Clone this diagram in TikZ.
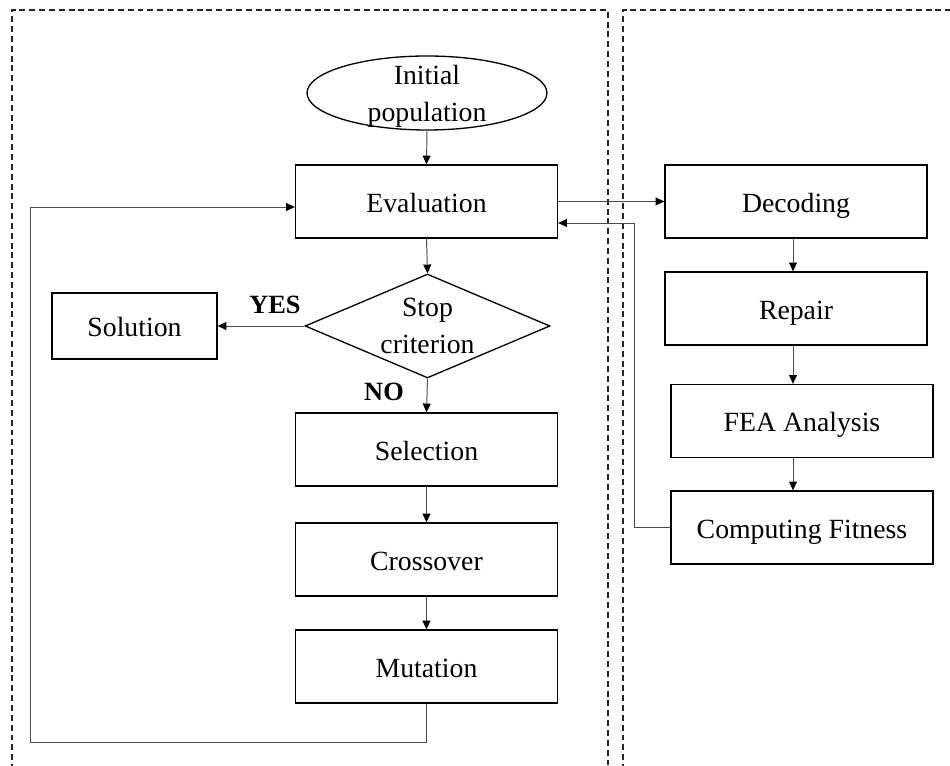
\documentclass[tikz,border=0pt]{standalone}
\usepackage{fontspec}
\setmainfont{Liberation Serif}
\usetikzlibrary{shapes.geometric,arrows.meta}

\begin{document}
\begin{tikzpicture}[x=0.02cm,y=-0.02cm,
    font=\fontsize{15.8}{19.5}\selectfont,
    procbox/.style={draw,line width=0.75pt,minimum width=5.24cm,minimum height=1.46cm,inner sep=0pt,
                    text height=13pt,text depth=1pt},
    conn/.style={draw=black!70,line width=0.55pt,-{Triangle[length=5pt,width=4.5pt,color=black]}},
    frame/.style={draw=black!85,line width=0.7pt,dash pattern=on 3.4pt off 2.2pt},
    answer/.style={font=\fontsize{15}{18}\selectfont\bfseries}]

\useasboundingbox (0,0) rectangle (950,766);

% dashed frames
\draw[frame] (12,770) -- (12,10) -- (608,10) -- (608,770);
\draw[frame] (623,770) -- (623,10) -- (955,10);

% genetic algorithm loop
\node[ellipse,draw,line width=0.75pt,minimum width=4.8cm,minimum height=1.48cm,inner sep=0pt,
      label={[align=center,font=\fontsize{15.8}{21}\selectfont,yshift=-0.06cm]center:Initial\\population}] (init) at (427,93) {};
\node[procbox] (eval) at (426.5,201.5) {Evaluation};
\node[diamond,draw,line width=0.75pt,align=center,inner sep=0pt,aspect=2.35,
      font=\fontsize{15.8}{21}\selectfont,
      minimum width=4.9cm,minimum height=2.08cm] (stop) at (427.5,326) {Stop\\criterion};
\node[procbox,minimum width=3.3cm,minimum height=1.32cm] (sol) at (134.5,326) {Solution};
\node[procbox] (sel) at (426.5,449.5) {Selection};
\node[procbox] (cro) at (426.5,559.5) {Crossover};
\node[procbox] (mut) at (426.5,666.5) {Mutation};

% fitness evaluation
\node[procbox] (dec) at (796,201.5) {Decoding};
\node[procbox] (rep) at (796,308.5) {Repair};
\node[procbox] (fea) at (802,421) {FEA Analysis};
\node[procbox] (cf) at (802,527.5) {Computing Fitness};

\node[answer] (yes) at (275,305) {YES};
\node[answer] (no) at (384,392) {NO};

\coordinate (loopB) at (427,742);
\coordinate (loopL) at (30,207);
\coordinate (backR) at (634,223);
\coordinate (rcol) at (793,0);

\draw[conn] (init.south) -- (eval.north);
\draw[conn] (eval.south) -- (stop.north);
\draw[conn] (stop.west) -- (sol.east);
\draw[conn] (stop.south) -- (sel.north);
\draw[conn] (sel.south) -- (cro.north);
\draw[conn] (cro.south) -- (mut.north);
\draw[conn] (mut.south) -- (mut.south |- loopB) -| (loopL) -- (loopL -| eval.west);

\draw[conn] (eval.east) -- (dec.west);
\draw[conn] (dec.south -| rcol) -- (rep.north -| rcol);
\draw[conn] (rep.south -| rcol) -- (fea.north -| rcol);
\draw[conn] (fea.south -| rcol) -- (cf.north -| rcol);
\draw[conn] (cf.west) -| (backR) -- (backR -| eval.east);

\end{tikzpicture}
\end{document}
